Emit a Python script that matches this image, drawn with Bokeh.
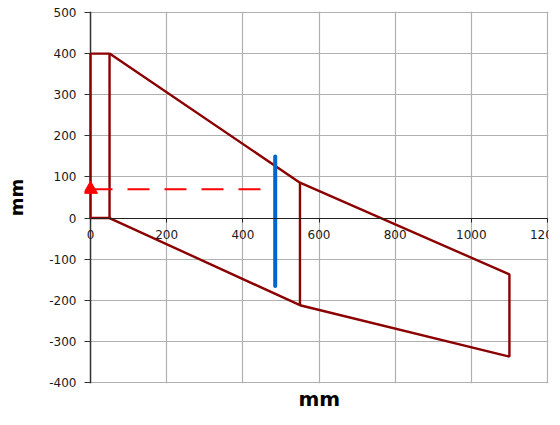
from bokeh.plotting import figure
from bokeh.models import Range1d, BoxAnnotation, Title, Span, CustomJSTickFormatter
from bokeh.embed import file_html
from bokeh.resources import INLINE

# ---- data ----
rect_x = [0, 0, 50, 50, 0]
rect_y = [0, 400, 400, 0, 0]
mid_x = [50, 550, 550, 50]
mid_y = [400, 86, -212, 0]
far_x = [550, 1100, 1100, 550]
far_y = [86, -137, -337, -212]
dash_x = [0, 485]
dash_y = [70, 70]
marker_x = [0]
marker_y = [70]
blue_x = [485, 485]
blue_y = [-165, 150]

x_ticks = [0, 200, 400, 600, 800, 1000, 1200]
y_ticks = [-400, -300, -200, -100, 0, 100, 200, 300, 400, 500]
x_title = "mm"
y_title = "mm"

FONT = "DejaVu Sans"
DARK_RED = "#8B0000"
GRID = "#b0b0b0"
AXIS = "#333333"

# ---- layout: frame extends a few px left of x=0 so the marker on the axis shows ----
W, H = 560, 425
BL, BR, BT, BB = 84, 12, 11, 42
frame_w = W - BL - BR
frame_h = H - BT - BB
pad_l, pad_r = 6, 1          # px
ux = (x_ticks[-1] - x_ticks[0]) / (frame_w - pad_l - pad_r)
uy = (y_ticks[-1] - y_ticks[0]) / (frame_h - 2)

p = figure(width=W, height=H,
           x_range=Range1d(x_ticks[0] - pad_l * ux, x_ticks[-1] + pad_r * ux),
           y_range=Range1d(y_ticks[0] - uy, y_ticks[-1] + uy),
           output_backend="svg", toolbar_location=None,
           min_border_left=BL, min_border_right=BR,
           min_border_top=BT, min_border_bottom=BB)
p.background_fill_color = "white"
p.border_fill_color = "white"
p.outline_line_color = None

# grids
p.xgrid.ticker = x_ticks
p.ygrid.ticker = y_ticks
p.grid.grid_line_color = GRID
p.grid.grid_line_width = 1.2
p.grid.level = "image"

# hide grid left of the y axis, then draw the y axis line at x = 0
p.add_layout(BoxAnnotation(right=x_ticks[0], fill_color="white", fill_alpha=1,
                           line_color=None, level="underlay"))
p.add_layout(Span(location=x_ticks[0], dimension="height", line_color=AXIS,
                  line_width=1.5, level="underlay"))

# x axis crossing at y = 0
xa = p.xaxis[0]
xa.fixed_location = 0
xa.bounds = (x_ticks[0], x_ticks[-1])
xa.ticker = x_ticks
xa.formatter = CustomJSTickFormatter(code="return String(tick);")
xa.major_tick_out = 4
xa.major_tick_in = 0
xa.minor_tick_line_color = None
xa.axis_line_color = "#222222"
xa.axis_line_width = 1.2
xa.major_tick_line_color = "#222222"
xa.major_label_standoff = 8
xa.major_label_text_font = FONT
xa.major_label_text_font_size = "12px"
xa.major_label_text_color = "#1a1a1a"

# y axis (ticks reach from the frame edge to x = 0)
ya = p.yaxis[0]
ya.ticker = y_ticks
ya.formatter = CustomJSTickFormatter(code="return String(tick);")
ya.axis_line_color = None
ya.major_tick_out = 0
ya.major_tick_in = pad_l
ya.minor_tick_line_color = None
ya.major_tick_line_color = AXIS
ya.major_tick_line_width = 1.2
ya.major_label_standoff = 8
ya.major_label_text_font = FONT
ya.major_label_text_font_size = "12px"
ya.major_label_text_color = "#1a1a1a"
ya.axis_label = y_title
ya.axis_label_text_font = FONT
ya.axis_label_text_font_size = "18px"
ya.axis_label_text_font_style = "bold"
ya.axis_label_text_color = "black"
ya.axis_label_standoff = 19

# shape outline
lw = 2.4
p.line(rect_x, rect_y, line_color=DARK_RED, line_width=lw)
p.line(mid_x, mid_y, line_color=DARK_RED, line_width=lw)
p.line(far_x, far_y, line_color=DARK_RED, line_width=lw)

# red dashed level line with triangle marker
p.line(dash_x, dash_y, line_color="#FF0000", line_width=2, line_dash="22 15")
p.scatter(marker_x, marker_y, marker="triangle", size=14,
          fill_color="#FF0000", line_color="#FF0000")

# blue vertical line
p.line(blue_x, blue_y, line_color="#0066CC", line_width=4, line_cap="round")

# x axis title below the frame
p.add_layout(Title(text=x_title, align="left", offset=214, vertical_align="bottom",
                   text_font=FONT, text_font_size="20px", text_font_style="bold",
                   text_color="black", standoff=2), "below")

open("out.html", "w").write(file_html(p, INLINE))
